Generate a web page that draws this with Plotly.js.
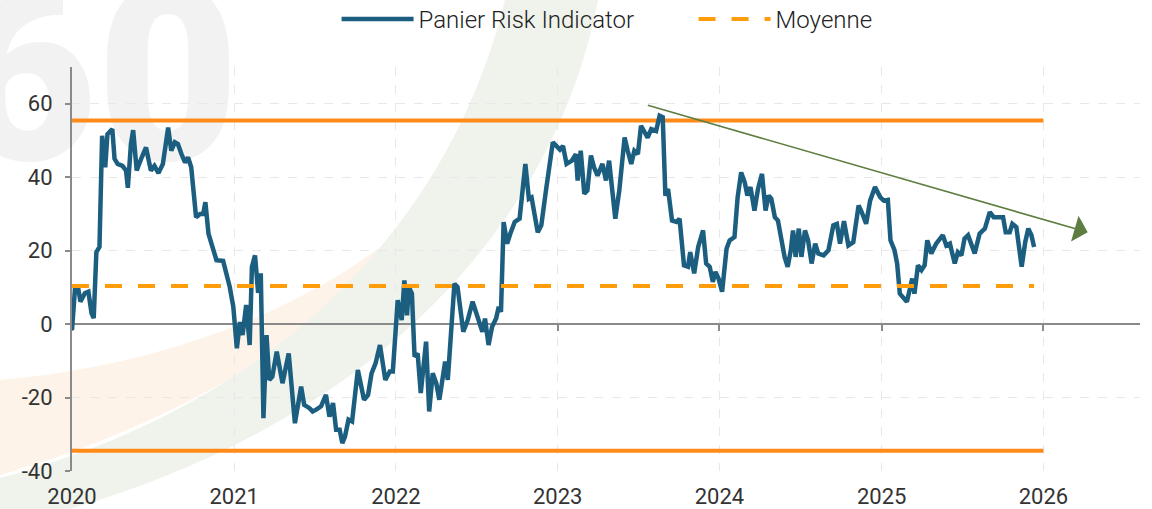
<!DOCTYPE html>
<html>
<head>
<meta charset="utf-8">
<script src="https://cdn.plot.ly/plotly-3.0.1.min.js"></script>
<style>html,body{margin:0;padding:0;background:#fff;}#chart{width:1152px;height:509px;}</style>
</head>
<body>
<div id="chart"></div>
<script>
// ---- Data ----
const dates = [
'2020-01-01','2020-01-08','2020-01-15','2020-01-20','2020-01-30','2020-02-07','2020-02-14','2020-02-19','2020-02-25','2020-03-03',
'2020-03-09','2020-03-16','2020-03-21','2020-04-01','2020-04-06','2020-04-13','2020-04-24','2020-05-02','2020-05-06','2020-05-13',
'2020-05-18','2020-05-26','2020-06-05','2020-06-16','2020-06-27','2020-07-05','2020-07-14','2020-07-24','2020-08-05','2020-08-12',
'2020-08-20','2020-08-27','2020-09-04','2020-09-12','2020-09-19','2020-09-26','2020-10-07','2020-10-16','2020-10-23','2020-10-28',
'2020-11-04','2020-11-11','2020-11-22','2020-12-07','2020-12-13','2020-12-22','2020-12-30','2021-01-07','2021-01-14','2021-01-20',
'2021-01-28','2021-02-05','2021-02-10','2021-02-17','2021-02-24','2021-03-02','2021-03-08','2021-03-15','2021-03-21','2021-03-28',
'2021-04-07','2021-04-20','2021-05-04','2021-05-18','2021-06-01','2021-06-08','2021-06-20','2021-06-27','2021-07-05','2021-07-16',
'2021-07-27','2021-08-04','2021-08-12','2021-08-19','2021-08-27','2021-09-02','2021-09-08','2021-09-16','2021-09-24','2021-10-07',
'2021-10-21','2021-10-30','2021-11-07','2021-11-16','2021-11-26','2021-12-08','2021-12-18','2021-12-25','2022-01-05','2022-01-10',
'2022-01-14','2022-01-20','2022-01-26','2022-01-30','2022-02-06','2022-02-12','2022-02-19','2022-02-26','2022-03-10','2022-03-17',
'2022-03-25','2022-04-02','2022-04-09','2022-04-22','2022-04-28','2022-05-13','2022-05-20','2022-06-02','2022-06-12','2022-06-23',
'2022-07-04','2022-07-15','2022-07-21','2022-07-29','2022-08-06','2022-08-15','2022-08-21','2022-08-26','2022-09-01','2022-09-09',
'2022-09-16','2022-09-26','2022-10-07','2022-10-20','2022-10-28','2022-11-03','2022-11-17','2022-11-25','2022-12-06','2022-12-21',
'2023-01-06','2023-01-13','2023-01-21','2023-02-02','2023-02-11','2023-02-15','2023-02-22','2023-03-02','2023-03-09','2023-03-17',
'2023-03-24','2023-04-01','2023-04-12','2023-04-20','2023-04-27','2023-05-05','2023-05-11','2023-05-20','2023-06-01','2023-06-08',
'2023-06-16','2023-06-23','2023-07-01','2023-07-08','2023-07-15','2023-07-23','2023-07-31','2023-08-11','2023-08-19','2023-08-26',
'2023-09-01','2023-09-07','2023-09-16','2023-09-26','2023-10-03','2023-10-13','2023-10-22','2023-10-27','2023-11-05','2023-11-14',
'2023-11-25','2023-12-02','2023-12-10','2023-12-17','2023-12-23','2023-12-30','2024-01-07','2024-01-17','2024-01-24','2024-02-04',
'2024-02-11','2024-02-19','2024-02-27','2024-03-04','2024-03-11','2024-03-20','2024-03-28','2024-04-06','2024-04-14','2024-04-21',
'2024-04-27','2024-05-05','2024-05-12','2024-05-20','2024-05-27','2024-06-03','2024-06-10','2024-06-15','2024-06-21','2024-06-28',
'2024-07-04','2024-07-12','2024-07-19','2024-07-27','2024-08-04','2024-08-11','2024-08-23','2024-09-03','2024-09-14','2024-09-22',
'2024-09-29','2024-10-08','2024-10-18','2024-10-29','2024-11-10','2024-11-17','2024-11-27','2024-12-06','2024-12-17','2024-12-29',
'2025-01-06','2025-01-15','2025-01-21','2025-01-30','2025-02-05','2025-02-11','2025-02-19','2025-02-27','2025-03-05','2025-03-11',
'2025-03-16','2025-03-24','2025-04-01','2025-04-08','2025-04-14','2025-04-23','2025-05-04','2025-05-19','2025-05-27','2025-06-04',
'2025-06-15','2025-06-22','2025-06-30','2025-07-07','2025-07-15','2025-07-22','2025-07-30','2025-08-10','2025-08-22','2025-09-02',
'2025-09-11','2025-09-21','2025-10-02','2025-10-08','2025-10-17','2025-10-23','2025-11-01','2025-11-06','2025-11-13','2025-11-21',
'2025-11-28','2025-12-05','2025-12-11'
];
const riskValues = [
-1.6,10.1,9.8,6.1,8.4,8.8,3.0,1.6,19.6,21.0,
51.3,42.7,51.7,53.1,45.0,43.6,43.1,41.8,37.1,49.0,
52.8,41.8,45.0,48.1,41.8,43.1,41.1,43.6,53.5,47.2,
49.5,49.0,46.3,44.0,45.4,42.7,29.1,30.0,30.0,33.2,
24.6,21.9,17.4,17.2,14.7,10.1,4.7,-6.6,0.6,-3.0,
5.2,-5.7,15.6,18.7,8.5,13.8,-25.6,-3.0,-15.2,-14.3,
-7.5,-16.1,-8.0,-27.0,-17.0,-22.0,-22.9,-23.8,-23.3,-22.4,
-19.3,-25.2,-21.5,-28.8,-28.8,-32.4,-30.6,-26.0,-26.5,-12.5,
-20.6,-19.3,-13.4,-10.7,-5.7,-15.2,-12.9,-12.9,6.5,3.8,
1.1,11.9,2.4,10.1,8.3,-8.9,-8.0,-18.8,-4.8,-23.8,
-13.4,-16.1,-20.6,-10.2,-15.2,11.0,10.1,-2.1,1.1,6.1,
2.4,-2.1,1.5,-5.7,-0.7,1.5,4.7,3.3,27.8,21.9,
24.6,27.8,28.7,43.6,34.1,34.5,25.0,26.9,36.8,49.5,
47.5,48.5,43.6,44.5,46.3,39.1,47.2,35.5,36.4,45.9,
42.7,40.4,43.6,39.1,44.5,33.6,28.7,36.4,50.8,47.2,
43.6,47.2,46.3,54.0,52.2,50.8,53.1,52.6,56.7,56.3,
35.0,36.8,28.2,27.8,28.7,16.0,15.6,19.6,13.8,21.0,
25.5,16.5,15.6,11.5,14.2,12.4,8.8,20.5,22.8,23.7,
34.5,41.3,38.6,35.0,37.3,30.9,36.8,40.9,30.9,35.0,
34.1,29.1,28.2,22.8,18.3,15.6,20.1,25.5,18.3,26.0,
18.3,25.5,22.8,16.5,21.9,19.2,18.7,20.1,26.9,27.3,
21.9,28.0,21.4,22.3,32.3,30.5,27.3,33.6,37.3,34.5,
33.6,33.8,22.8,20.1,16.5,8.3,7.4,6.1,9.2,12.4,
8.3,16.0,14.7,16.0,22.8,19.2,21.9,24.2,21.4,21.9,
16.5,19.6,18.7,23.3,24.2,21.9,19.2,24.6,26.0,30.5,
29.1,29.1,29.1,25.0,25.0,27.3,26.4,21.9,15.6,22.3,
26.0,24.2,21.0
];
const bandDates = ['2020-01-01', '2026-01-01'];
const upperBand = [55.4, 55.4];
const lowerBand = [-34.5, -34.5];
const moyenneDates = ['2020-01-01', '2025-12-11'];
const moyenne = [10.4, 10.4];
const trendStart = {date: '2023-07-20', value: 59.7};
const trendEnd = {date: '2026-04-11', value: 25.0};
const seriesNames = ['Panier Risk Indicator', 'Moyenne'];
const yTickVals = [-40, -20, 0, 20, 40, 60];
const yTickText = ['-40', '-20', '0', '20', '40', '60'];

// ---- Colors ----
const BLUE = '#1b5e80', ORANGE = '#ff8a17', DASH_ORANGE = '#ff9c0a', GREEN = '#5e7d40';

const traces = [
  {x: bandDates, y: upperBand, type: 'scatter', mode: 'lines', xaxis: 'x', yaxis: 'y',
   line: {color: ORANGE, width: 4}, showlegend: false, hoverinfo: 'skip'},
  {x: bandDates, y: lowerBand, type: 'scatter', mode: 'lines', xaxis: 'x', yaxis: 'y',
   line: {color: ORANGE, width: 4}, showlegend: false, hoverinfo: 'skip'},
  {x: dates, y: riskValues, type: 'scatter', mode: 'lines', name: seriesNames[0], xaxis: 'x2', yaxis: 'y',
   line: {color: BLUE, width: 4.5, shape: 'linear'}},
  {x: moyenneDates, y: moyenne, type: 'scatter', mode: 'lines', name: seriesNames[1], xaxis: 'x2', yaxis: 'y',
   line: {color: DASH_ORANGE, width: 4, dash: '17px,16px'}}
];

const wm = '<svg xmlns="http://www.w3.org/2000/svg" width="1152" height="509" viewBox="0 0 1152 509">' +
  '<path d="M0,380 C170,365 320,305 420,215 C340,325 190,420 0,475 Z" fill="#fdf3e8"/>' +
  '<path d="M505,0 L598,0 C555,225 375,420 70,509 L0,509 L0,478 C275,405 450,225 505,0 Z" fill="#eff3ec"/>' +
  '<text x="-45" y="160" font-family="Roboto, DejaVu Sans" font-weight="900" font-size="245" fill="#f2f2f2">60</text>' +
  '</svg>';

const layout = {
  width: 1152, height: 509,
  margin: {l: 72, r: 12, t: 67, b: 38},
  paper_bgcolor: '#ffffff', plot_bgcolor: 'rgba(0,0,0,0)',
  font: {family: 'Roboto, "Open Sans", sans-serif', color: '#333333', size: 20},
  showlegend: true,
  legend: {orientation: 'h', x: 0.582, xanchor: 'center', y: 0.962, yanchor: 'middle', yref: 'container',
           font: {size: 24, color: '#222', weight: 300}, itemwidth: 72, entrywidth: 270, bgcolor: 'rgba(0,0,0,0)'},
  xaxis: {type: 'date', range: ['2020-01-01', '2026-08-07'], tick0: '2020-01-01', dtick: 'M12', tickformat: '%Y',
          showline: false, ticks: '', showgrid: true, gridcolor: '#e8e8e8', griddash: 'dash', gridwidth: 1,
          zeroline: false, tickfont: {size: 22, color: '#333'}, ticklabelstandoff: 10, fixedrange: true},
  xaxis2: {type: 'date', matches: 'x', overlaying: 'x', anchor: 'free', position: 40/110,
           tick0: '2020-01-01', dtick: 'M12', showticklabels: false, showgrid: false,
           showline: true, linecolor: '#8a8a8a', linewidth: 2, ticks: 'outside', ticklen: 6, tickcolor: '#8a8a8a', tickwidth: 2,
           layer: 'below traces', zeroline: false},
  yaxis: {range: [-40, 70], tickmode: 'array', tickvals: yTickVals, ticktext: yTickText,
          showline: true, linecolor: '#8a8a8a', linewidth: 2,
          ticks: 'outside', ticklen: 5, tickcolor: '#8a8a8a', tickwidth: 2, showgrid: true, gridcolor: '#e8e8e8',
          griddash: 'dash', zeroline: false, tickfont: {size: 22, color: '#333'}, ticklabelstandoff: 8,
          layer: 'below traces', fixedrange: true},
  images: [{source: 'data:image/svg+xml;charset=utf-8,' + encodeURIComponent(wm), xref: 'paper', yref: 'paper',
            x: -72/1068, y: 1 + 67/404, sizex: 1152/1068, sizey: 509/404, xanchor: 'left', yanchor: 'top',
            sizing: 'stretch', layer: 'below'}],
  annotations: [{x: trendEnd.date, y: trendEnd.value, xref: 'x2', yref: 'y', axref: 'x2', ayref: 'y',
                 ax: trendStart.date, ay: trendStart.value, text: '', showarrow: true,
                 arrowhead: 1, arrowsize: 2.8, arrowwidth: 1.6, arrowcolor: GREEN}]
};

Plotly.newPlot('chart', traces, layout, {displayModeBar: false, staticPlot: true});
</script>
</body>
</html>
